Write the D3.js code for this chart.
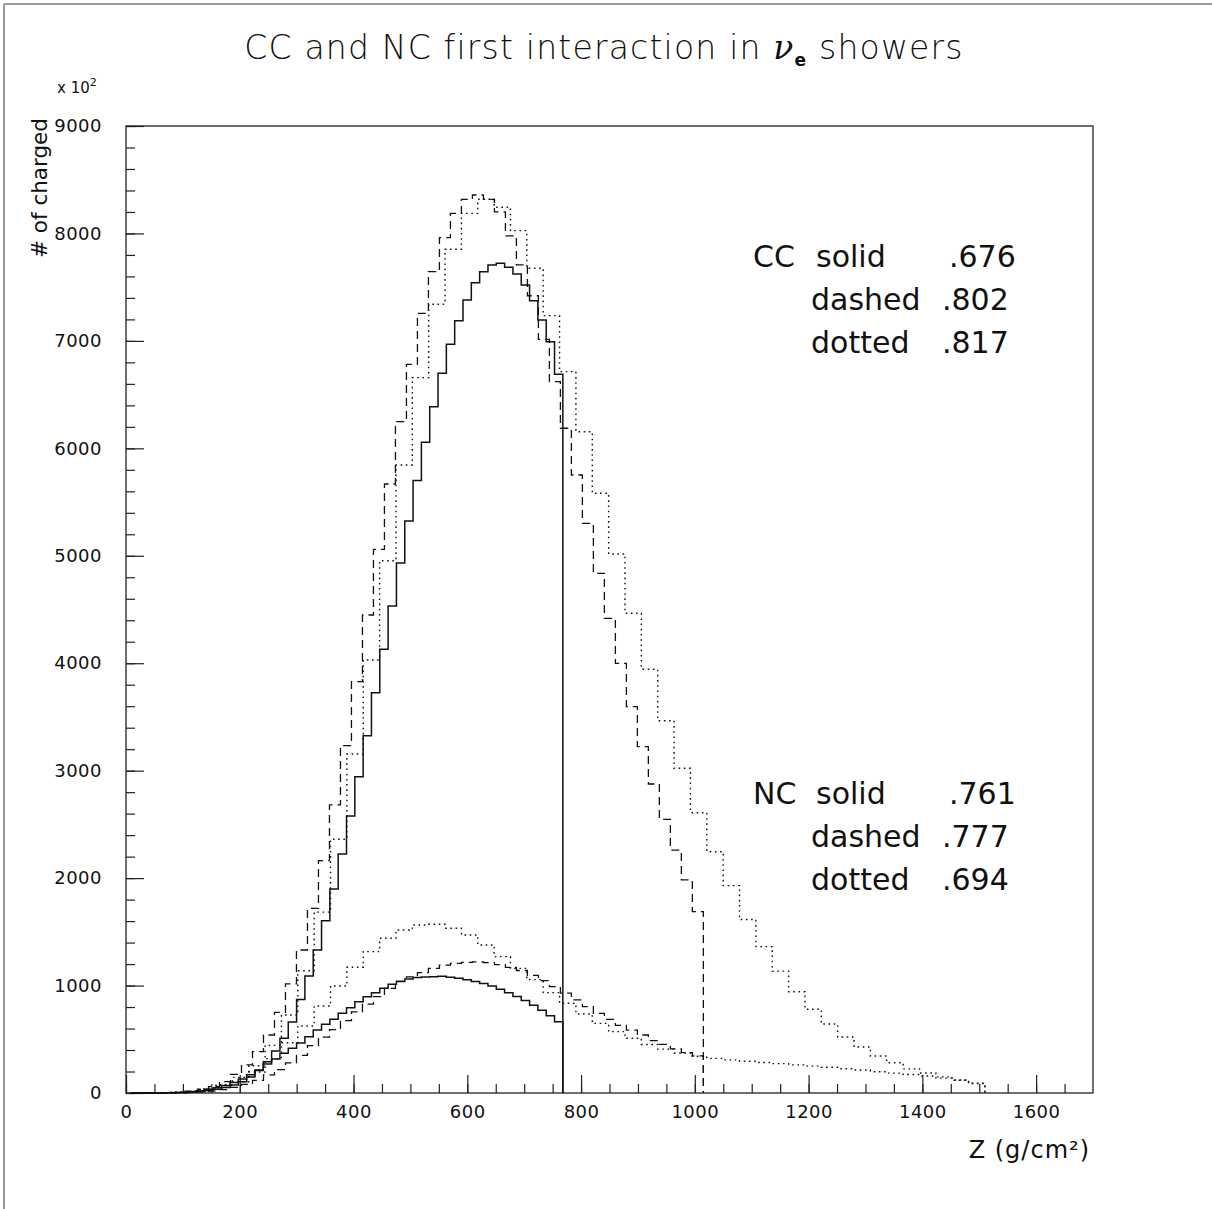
<!DOCTYPE html>
<html>
<head>
<meta charset="utf-8">
<script src="https://cdn.jsdelivr.net/npm/d3@7"></script>
<style>
  html, body { margin: 0; padding: 0; background: #fff; }
  svg { display: block; }
  text { font-family: "DejaVu Sans", sans-serif; fill: #111; }
</style>
</head>
<body>
<svg id="chart" width="1212" height="1209"></svg>
<script>
// ---------------- data ----------------
const xTickValues = [0, 200, 400, 600, 800, 1000, 1200, 1400, 1600];
const yTickValues = [0, 1000, 2000, 3000, 4000, 5000, 6000, 7000, 8000, 9000];

// bin ranges [first lower edge, last upper edge] (g/cm2), 52 bins each
const solidRange  = [7.3, 768];
const dashedRange = [9.7, 1015];
const dottedRange = [14.4, 1510];

// values in units of 10^2 charged particles
const ccSolid = [0,0,0,1,2,3,5,9,15,24,36,52,75,105,150,210,290,390,510,660,
  870,1090,1331,1602,1899,2224,2578,2944,3326,3726,4130,4533,4933,5324,5700,6056,
  6388,6699,6968,7188,7381,7542,7644,7707,7722,7685,7623,7521,7374,7195,6993,6689];
const ccDashed = [0,1,2,4,8,18,35,60,105,174,261,385,540,751,1015,1331,1719,2162,2681,3233,
  3828,4449,5060,5668,6248,6782,7257,7644,7961,8187,8318,8358,8318,8200,7977,7707,
  7420,7015,6621,6187,5752,5302,4837,4418,3999,3596,3223,2876,2547,2260,1983,1688];
const ccDotted = [0,2,6,15,35,78,145,253,443,726,1138,1683,2361,3155,4030,4954,5845,6658,7341,7853,
  8187,8318,8244,8026,7676,7235,6714,6155,5582,5017,4465,3944,3465,3022,2609,2246,
  1930,1615,1362,1134,943,779,642,521,428,344,282,225,186,150,121,88];
const ncSolid = [0,0,0,1,2,4,7,13,22,34,50,70,97,130,170,215,270,316,369,416,
  465,524,586,639,686,742,794,850,896,934,975,1013,1040,1062,1074,1080,1083,1086,
  1078,1068,1055,1038,1018,995,966,934,899,860,816,770,718,662];
const ncDashed = [0,0,0,1,2,5,10,18,32,52,80,118,168,218,280,350,440,520,590,673,
  755,828,897,974,1036,1080,1120,1160,1191,1207,1216,1220,1213,1195,1170,1140,
  1095,1045,990,930,866,804,742,686,630,586,540,487,452,410,376,345];
const ncDotted = [0,2,6,15,35,70,105,195,320,468,624,810,996,1170,1316,1440,1517,1564,1570,1533,
  1471,1378,1269,1160,1055,934,835,735,648,571,509,452,408,372,342,322,
  308,295,284,273,262,250,240,226,214,198,185,172,158,138,118,92];

const ccLegend = [["CC", "solid", ".676"], ["", "dashed", ".802"], ["", "dotted", ".817"]];
const ncLegend = [["NC", "solid", ".761"], ["", "dashed", ".777"], ["", "dotted", ".694"]];

// ---------------- layout ----------------
const svg = d3.select("#chart");
const L = 126, R = 1093, T = 126, B = 1093;
const x = d3.scaleLinear().domain([0, 1700]).range([L, R]);
const y = d3.scaleLinear().domain([0, 9000]).range([B, T]);

// outer page frame (top + left visible)
svg.append("line").attr("x1", 4).attr("x2", 1212).attr("y1", 4).attr("y2", 4)
  .attr("stroke", "#999").attr("stroke-width", 2);
svg.append("line").attr("x1", 4).attr("x2", 4).attr("y1", 4).attr("y2", 1209)
  .attr("stroke", "#999").attr("stroke-width", 2);

// plot frame
svg.append("rect").attr("x", L).attr("y", T).attr("width", R - L).attr("height", B - T)
  .attr("fill", "none").attr("stroke", "#222").attr("stroke-width", 1.3);

// ticks
const xMinor = d3.range(0, 1700, 50);
const yMinor = d3.range(0, 9001, 200);
function styleAxis(g) { g.select(".domain").remove(); g.selectAll("line").attr("stroke", "#222").attr("stroke-width", 1.2); }
svg.append("g").attr("transform", `translate(0,${B})`)
  .call(d3.axisTop(x).tickValues(xMinor).tickSize(9).tickFormat("")).call(styleAxis);
svg.append("g").attr("transform", `translate(0,${B})`)
  .call(d3.axisTop(x).tickValues(xTickValues).tickSize(18).tickFormat("")).call(styleAxis);
svg.append("g").attr("transform", `translate(${L},0)`)
  .call(d3.axisRight(y).tickValues(yMinor).tickSize(9).tickFormat("")).call(styleAxis);
svg.append("g").attr("transform", `translate(${L},0)`)
  .call(d3.axisRight(y).tickValues(yTickValues).tickSize(18).tickFormat("")).call(styleAxis);

// tick labels
const xl = svg.append("g").attr("transform", `translate(0,${B})`)
  .call(d3.axisBottom(x).tickValues(xTickValues).tickSize(0).tickPadding(12).tickFormat(d3.format("d")));
xl.select(".domain").remove();
xl.selectAll("text").attr("font-size", 18).attr("font-family", "DejaVu Sans").attr("fill", "#111").attr("letter-spacing", 0.5);
const yl = svg.append("g").attr("transform", `translate(${L},0)`)
  .call(d3.axisLeft(y).tickValues(yTickValues).tickSize(0).tickPadding(24).tickFormat(d3.format("d")));
yl.select(".domain").remove();
yl.selectAll("text").attr("font-size", 18).attr("font-family", "DejaVu Sans").attr("fill", "#111").attr("letter-spacing", 0.5);

// histograms
function histPath(vals, range) {
  const w = (range[1] - range[0]) / vals.length;
  const pts = [[range[0], 0]];
  vals.forEach((v, i) => {
    pts.push([range[0] + i * w, v]);
    pts.push([range[0] + (i + 1) * w, v]);
  });
  pts.push([range[1], 0]);
  return d3.line().x(d => x(d[0])).y(d => y(d[1]))(pts);
}
const styles = {
  solid:  {dash: null,      w: 1.5},
  dashed: {dash: "8,5",     w: 1.3},
  dotted: {dash: "1.6,3.6", w: 1.4}
};
const series = [
  [ccSolid, solidRange, "solid"], [ncSolid, solidRange, "solid"],
  [ccDashed, dashedRange, "dashed"], [ncDashed, dashedRange, "dashed"],
  [ccDotted, dottedRange, "dotted"], [ncDotted, dottedRange, "dotted"]
];
series.forEach(([vals, range, st]) => {
  svg.append("path").attr("d", histPath(vals, range))
    .attr("fill", "none").attr("stroke", "#111")
    .attr("stroke-width", styles[st].w)
    .attr("stroke-dasharray", styles[st].dash);
});

// title
const title = svg.append("text").attr("x", 604).attr("y", 59).attr("text-anchor", "middle")
  .attr("font-size", 33).attr("font-weight", 200).attr("letter-spacing", 1.2);
title.append("tspan").text("CC and NC first interaction in ");
title.append("tspan").attr("font-family", "DejaVu Serif").attr("font-style", "italic").attr("font-weight", 400).text("ν");
title.append("tspan").attr("font-size", 17).attr("dy", 7).attr("font-weight", 700).text("e");
title.append("tspan").attr("dy", -7).text(" showers");

// x 10^2
const mult = svg.append("text").attr("x", 57).attr("y", 93).attr("font-size", 15);
mult.append("tspan").text("x 10");
mult.append("tspan").attr("font-size", 11).attr("dy", -7).text("2");

// axis titles
svg.append("text").attr("transform", "translate(47,118) rotate(-90)")
  .attr("text-anchor", "end").attr("font-size", 21.5).text("# of charged");
svg.append("text").attr("x", 1090).attr("y", 1158).attr("text-anchor", "end")
  .attr("font-size", 24).attr("letter-spacing", 1).text("Z (g/cm²)");

// legends
function legend(rows, y0) {
  rows.forEach((r, i) => {
    const yy = y0 + i * 43;
    const g = svg.append("g");
    if (r[0]) g.append("text").attr("x", 753).attr("y", yy).attr("font-size", 30).text(r[0]);
    g.append("text").attr("x", i === 0 ? 816 : 811).attr("y", yy).attr("font-size", 30).text(r[1]);
    g.append("text").attr("x", i === 0 ? 949 : 942).attr("y", yy).attr("font-size", 30).text(r[2]);
  });
}
legend(ccLegend, 267);
legend(ncLegend, 804);
</script>
</body>
</html>
